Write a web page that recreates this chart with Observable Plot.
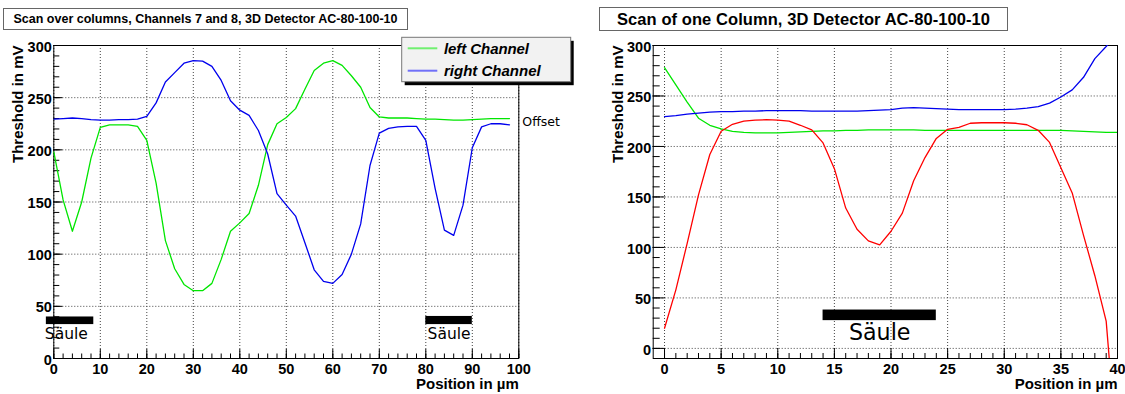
<!DOCTYPE html>
<html><head><meta charset="utf-8">
<script src="https://cdn.jsdelivr.net/npm/d3@7"></script>
<script src="https://cdn.jsdelivr.net/npm/@observablehq/plot@0.6"></script>
<style>
body{margin:0;background:#fff;}
#wrap{position:relative;width:1125px;height:394px;overflow:hidden;background:#fff;}
#wrap svg{position:absolute;top:0;max-width:none;}
</style></head>
<body><div id="wrap"></div>
<script>
// ---- Left panel: scan over columns (channels 7 and 8) ----
const leftX = [0,2,4,6,8,10,12,14,16,18,20,22,24,26,28,30,32,34,36,38,40,42,44,46,48,
               50,52,54,56,58,60,62,64,66,68,70,72,74,76,78,80,82,84,86,88,90,92,94,96,98];
const leftChannel = [198,152,122,150,192,221.5,224,224,224,222.5,
                     209,168,113,86,71,65,65,72,95,122,
                     130,139,166,205,225,231,239.5,258,276,283,
                     285.5,281,271,260,240.5,231.5,230.5,230.5,230.5,230,
                     229.5,229.5,229,228.5,228.5,229,229.5,230,230,230];
const rightChannel = [229.5,230,230.5,230,229,228.5,228.5,229,229,229.5,
                      232,245,265,274,283,285.5,285,280,266.5,247,
                      238,233,218.5,196,158,147,136.5,111,85,74,
                      72,80.5,100,129,185,216,220.5,222,222.5,222.5,
                      209,163,123,118,147,202,222,225,225,224];
const leftSauleStart = [-1.6, 80];
const leftSauleEnd = [8.6, 90];
const leftSauleLow = [32.5, 32.5];
const leftSauleHigh = [39.8, 40.3];
const leftSauleLabelX = [2.7, 85];
const leftSauleLabelY = [19, 19];
const offsetLabel = {x: 100, y: 227, text: "Offset"};

// ---- Right panel: scan of one column ----
const colX = [0,1,2,3,4,5,6,7,8,9,10,11,12,13,14,15,16,17,18,19,20,
              21,22,23,24,25,26,27,28,29,30,31,32,33,34,35,36,37,38,39,40];
const colGreen = [278,261,244,228,221,217.5,215,214,213.5,213.5,
                  213.5,214,214.5,215,215.5,215.5,216,216,216.5,216.5,
                  216.5,216.5,216.5,216,216,216,216,216,216,216,
                  216,216,216,216,216,216,215.5,215,214.5,214,214];
const colBlueX = [0,1,2,3,4,5,6,7,8,9,10,11,12,13,14,15,16,17,18,19,20,
                  21,22,23,24,25,26,27,28,29,30,31,32,33,34,35,36,37,38,39,39.3];
const colBlue = [229.5,230.5,232,233,234,234.5,234.5,235,235,235.5,
                 235.5,235.5,235.5,235,235,235,235,235,235.5,236,
                 236.5,238,238.5,238,237.5,237,236.5,236.5,236.5,236.5,
                 236.5,237,238,239.5,243,249,256,268.5,287,299,303];
const colRedX = colBlueX;
const colRed = [20,58,104,152,192,215,222,225,226,226.5,
                226,225,221,216.5,203.5,178,139,118,106.5,102.5,
                116,134,166,189,208,217,219,223,223.5,223.5,
                223.5,223,221.5,216,204,179,154,112,72,27,-14];
const colSaule = {x1: 14, x2: 24, y1: 27.5, y2: 38, labelX: 19, labelY: 8};

const rows = (xs, ys) => xs.map((x, i) => ({x, y: ys[i]}));

const bold = "bold";
const gridStyle = {stroke: "#444", strokeOpacity: 1, strokeDasharray: "1,2"};
const dejavu = "DejaVu Sans";

function axes(xMinor, xMajor, yMinor, yMajor, t) {
  return [
    Plot.gridX(xMajor, gridStyle),
    Plot.gridY(yMajor, gridStyle),
    Plot.axisX(xMinor, {tickSize: -t.xMinor, fill: "none", label: null}),
    Plot.axisX(xMajor, {tickSize: -t.xMajor, fill: "none", label: null}),
    Plot.axisX(xMajor, {tickSize: 0, tickPadding: 5, fontSize: 14.5, fontWeight: bold, label: null}),
    Plot.axisY(yMinor, {tickSize: -t.yMinor, fill: "none", label: null}),
    Plot.axisY(yMajor, {tickSize: -t.yMajor, fill: "none", label: null}),
    Plot.axisY(yMajor, {tickSize: 0, tickPadding: 2, dy: 1.5, fontSize: 14.5, fontWeight: bold, label: null}),
    Plot.frame({stroke: "#000"}),
    Plot.text(["Threshold in mV"], {frameAnchor: "top-left", rotate: -90, textAnchor: "end", lineAnchor: "middle", dx: -35.5, fontSize: 15, fontWeight: bold}),
    Plot.text(["Position in \u00b5m"], {frameAnchor: "bottom-right", textAnchor: "end", lineAnchor: "bottom", dy: 30, fontSize: 15, fontWeight: bold})
  ];
}

const style = {fontFamily: "'Liberation Sans', Arial, sans-serif", background: "transparent", color: "#000", overflow: "visible"};

const left = Plot.plot({
  width: 560, height: 394,
  marginLeft: 53.3, marginRight: 41.7, marginTop: 45, marginBottom: 36,
  x: {domain: [0, 100]}, y: {domain: [0, 300]},
  style,
  marks: [
    ...axes(d3.range(0, 101, 2), d3.range(0, 101, 10), d3.range(0, 301, 10), d3.range(0, 301, 50),
            {xMinor: 4.5, xMajor: 9, yMinor: 6, yMajor: 9}),
    Plot.line(rows(leftX, leftChannel), {x: "x", y: "y", stroke: "#00e600", strokeWidth: 1.3, clip: true}),
    Plot.line(rows(leftX, rightChannel), {x: "x", y: "y", stroke: "#0000ee", strokeWidth: 1.3, clip: true}),
    Plot.rect(leftSauleStart.map((s, i) => ({x1: s, x2: leftSauleEnd[i], y1: leftSauleLow[i], y2: leftSauleHigh[i]})),
      {x1: "x1", x2: "x2", y1: "y1", y2: "y2", fill: "#000"}),
    Plot.text(leftSauleLabelX.map((x, i) => ({x, y: leftSauleLabelY[i]})),
      {x: "x", y: "y", text: () => "Säule", textAnchor: "middle", lineAnchor: "bottom", fontSize: 15.5, fontFamily: dejavu}),
    Plot.text([offsetLabel], {x: "x", y: "y", text: "text", textAnchor: "start", lineAnchor: "middle", dx: 3.5, fontSize: 12.5, fontFamily: dejavu})
  ]
});
left.style.left = "0px";

const right = Plot.plot({
  width: 565, height: 394,
  marginLeft: 92.7, marginRight: 8, marginTop: 45, marginBottom: 36,
  x: {domain: [-1, 40]}, y: {domain: [-10, 300]},
  style,
  marks: [
    ...axes(d3.range(0, 41, 1), d3.range(0, 41, 5), d3.range(0, 301, 10), d3.range(0, 301, 50),
            {xMinor: 5, xMajor: 10, yMinor: 7, yMajor: 12}),
    Plot.line(rows(colX, colGreen), {x: "x", y: "y", stroke: "#00e600", strokeWidth: 1.3, clip: true}),
    Plot.line(rows(colBlueX, colBlue), {x: "x", y: "y", stroke: "#0000ee", strokeWidth: 1.3, clip: true}),
    Plot.line(rows(colRedX, colRed), {x: "x", y: "y", stroke: "#ff0000", strokeWidth: 1.3, clip: true}),
    Plot.rect([colSaule], {x1: "x1", x2: "x2", y1: "y1", y2: "y2", fill: "#000"}),
    Plot.text([colSaule], {x: "labelX", y: "labelY", text: () => "Säule", textAnchor: "middle", lineAnchor: "bottom", fontSize: 22.2, fontFamily: dejavu})
  ]
});
right.style.left = "560px";

const wrap = document.getElementById("wrap");
wrap.appendChild(left);
wrap.appendChild(right);

// ---- Overlay: titles and legend ----
const ov = d3.select(wrap).append("svg").attr("width", 1125).attr("height", 394).style("left", "0px")
  .attr("font-family", "'Liberation Sans', Arial, sans-serif");

const titles = [
  {x: 3.5, y: 8.5, w: 404, h: 21, text: "Scan over columns, Channels 7 and 8, 3D Detector AC-80-100-10", size: 12.5, base: 22.6, len: 384},
  {x: 599.5, y: 7.5, w: 408, h: 23, text: "Scan of one Column, 3D Detector AC-80-100-10", size: 16.5, base: 24.6, len: 373}
];
for (const t of titles) {
  ov.append("rect").attr("x", t.x).attr("y", t.y).attr("width", t.w).attr("height", t.h)
    .attr("fill", "#fff").attr("stroke", "#666");
  ov.append("text").attr("x", t.x + t.w / 2).attr("y", t.base).attr("text-anchor", "middle")
    .attr("font-size", t.size).attr("font-weight", "bold").attr("textLength", t.len).attr("lengthAdjust", "spacing")
    .text(t.text);
}

const lg = {x: 401.7, y: 37.3, w: 169, h: 44.4};
ov.append("rect").attr("x", lg.x + 3).attr("y", lg.y + 3.5).attr("width", lg.w).attr("height", lg.h).attr("fill", "#000");
ov.append("rect").attr("x", lg.x).attr("y", lg.y).attr("width", lg.w).attr("height", lg.h).attr("fill", "#f2f2f2").attr("stroke", "#777");
const entries = [
  {label: "left Channel", color: "#70f070", ly: 48.3, base: 54, len: 85},
  {label: "right Channel", color: "#7070f8", ly: 70.7, base: 76, len: 96.7}
];
for (const e of entries) {
  ov.append("line").attr("x1", 407.7).attr("x2", 437.3).attr("y1", e.ly).attr("y2", e.ly)
    .attr("stroke", e.color).attr("stroke-width", 2);
  ov.append("text").attr("x", 444).attr("y", e.base).attr("font-size", 15).attr("font-weight", "bold")
    .attr("font-style", "italic").attr("textLength", e.len).attr("lengthAdjust", "spacing").text(e.label);
}
</script>
</body></html>
